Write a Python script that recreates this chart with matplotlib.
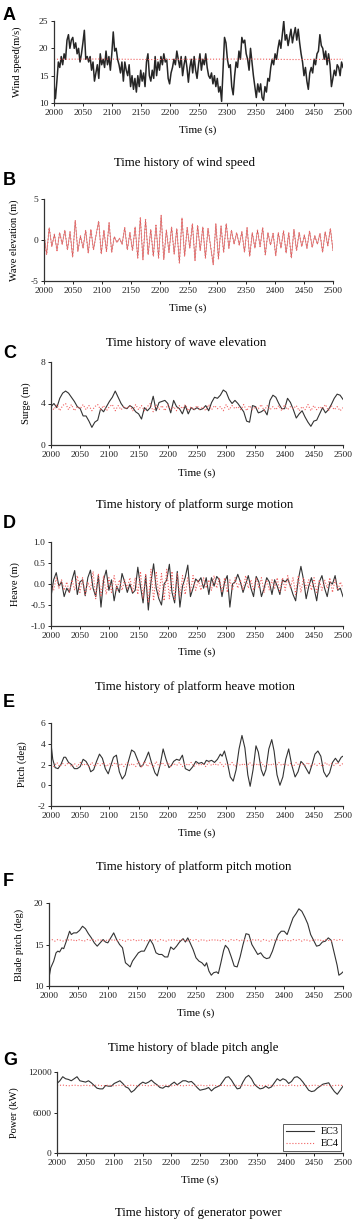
import numpy as np
import matplotlib
matplotlib.use("Agg")
import matplotlib.pyplot as plt
from matplotlib.ticker import FormatStrFormatter

plt.rcParams['font.family'] = ['Liberation Serif', 'DejaVu Serif']
plt.rcParams['axes.unicode_minus'] = False

# ---------------- data ----------------
wind_ec3 = [13.5,10.8,14,17.5,16.5,18.5,17,19,18,21.5,22.5,20,21.5,22,20,21,19,20,17.5,19,
            21,23.3,18,18.5,17.5,18.5,16,17.5,14,15.5,17,14.5,19,17,18,16.5,19.5,17,18.5,16,
            19,23,19.5,20,18,17,15.5,17.5,14,17.5,16,15,17,13,15,12.5,14.5,12,15,13,
            16,14,15.5,13,17.5,19,15,14,16,14.5,18.5,15,17.5,16,18.5,17,19,17.5,18,14.5,
            13.5,15.5,16.5,18,17,19.5,18,16.5,18.5,15,17,18.5,16.5,13.8,16.5,18,15.5,18.5,16,14.5,
            17,19,16,18,17,19,16.5,15,14.5,15.5,13.5,15,13,14.5,12,13,10.3,16,22,21,
            18,16.5,17,13,11.5,15,17.5,16.5,19.5,18,22,21,21.5,19,18,16,20,17.5,15,13,
            11,13.5,12,13.5,11,10.5,13,12,14.5,14,16.5,18,17,19,18,20,21.5,20,22.5,25,
            21.5,22.5,20.5,22,23.5,21,22.5,23.8,21.5,23.5,21,19,17.5,15,16.5,14,12.5,15.5,16.5,15.5,
            18,17,19,19.5,22.5,20.5,20,18,19.5,17,19,17,13,14.5,16,15,17,16.5,15,17.5,16.5]
wind_ec4 = [18.0, 18.05, 17.95, 18.0, 18.05, 17.95, 18.0]

wave_ec = [0.8,-1.8,1.5,-0.8,0.7,-1.3,0.9,-0.5,1.2,-1.2,1.0,-2.1,2.4,-1.4,0.5,-1.0,1.2,-1.6,1.3,-1.2,
           0.6,2.3,-1.7,1.2,-1.4,2.1,-1.5,0.4,-0.3,0.2,-0.5,1.5,-1.2,0.9,-1.3,1.6,-2.2,2.7,-2.4,2.5,
           -1.8,1.3,-2.0,1.8,-2.2,3.0,-2.4,1.2,-1.5,1.6,-1.7,1.4,-2.8,2.7,-2.0,1.5,-1.0,2.0,-2.5,1.8,
           -1.3,1.6,-2.2,1.4,-0.8,-3.0,2.0,-2.3,1.7,-1.5,2.0,-1.0,1.2,-0.5,0.9,-0.6,1.0,-1.5,1.5,-2.0,
           0.9,-1.0,1.2,-0.8,1.5,-1.8,0.9,-0.6,0.8,-1.9,0.9,-1.0,1.1,-1.6,0.9,-2.2,1.3,-1.3,0.9,-0.8,
           0.6,-1.0,1.1,-0.9,0.5,-0.5,0.8,-1.5,1.0,-0.7,1.4,-1.3]

surge_ec3 = [3.7,4.0,3.6,4.5,5.0,5.2,5.0,4.6,4.2,3.7,3.5,2.8,2.8,2.3,1.7,2.2,2.4,3.5,3.2,3.7,
             4.2,4.6,5.2,4.6,4.0,3.6,3.5,3.8,3.6,3.2,3.0,2.5,3.6,3.3,3.6,4.7,3.3,4.1,4.2,4.3,
             4.0,3.1,4.3,3.7,3.5,3.0,3.8,3.0,3.6,3.4,3.6,3.4,3.5,3.8,3.3,4.1,4.6,4.5,4.8,5.3,
             5.1,4.4,4.0,4.3,4.0,3.6,3.2,2.3,2.2,3.8,3.7,3.1,3.2,3.4,2.9,4.3,4.8,4.6,4.0,3.5,
             3.5,4.5,4.1,3.4,2.6,3.0,3.3,2.7,2.2,1.8,2.3,2.4,3.0,3.6,3.1,3.4,3.9,4.5,4.9,4.8,4.4]
surge_ec4 = [3.7,3.4,3.9,3.3,3.8,4.0,3.4,3.9,3.3,3.7,3.5,3.9,3.4,3.8,3.3,3.7,3.9,3.4,3.8,3.3,
             3.7,3.9,3.3,3.8,3.4,3.7,3.5,3.8,3.3,3.9,3.4,3.8,3.3,3.7,4.0,3.2,3.9,3.4,3.8,3.3,
             3.9,3.4,3.7,3.3,3.8,3.5,3.9,3.3,3.7,3.4,3.8,3.4,3.7,3.3,3.9,3.4,3.8,3.5,3.7,3.3,
             3.9,3.4,3.8,3.5,3.7,3.4,3.9,3.3,3.8,3.4,3.7,3.5,3.9,3.3,3.8,3.4,3.7,3.4,3.8,3.3,
             3.9,3.4,3.7,3.5,3.8,3.3,3.7,3.4,3.9,3.3,3.8,3.4,3.7,3.5,3.9,3.3,3.8,3.4,3.7,3.3,3.6]

heave_ec3 = [-0.30,0.10,0.27,-0.05,0.05,-0.30,-0.10,-0.20,0.10,0.32,-0.25,0.05,0.10,-0.28,0.15,0.33,
             -0.10,-0.30,0.20,-0.55,0.10,0.33,-0.15,0.10,-0.40,-0.05,-0.20,0.25,0.05,-0.20,0.00,-0.22,
             -0.15,0.40,-0.05,-0.45,0.20,-0.62,0.05,0.48,-0.10,-0.35,-0.50,0.00,0.10,0.47,-0.20,-0.45,
             0.30,-0.55,-0.05,0.15,0.45,-0.30,-0.10,0.12,0.05,0.15,-0.10,0.15,-0.25,0.15,-0.05,0.18,
             0.10,-0.30,0.05,0.20,-0.55,0.00,0.05,0.23,0.05,-0.20,0.00,0.20,-0.10,-0.30,0.18,0.05,
             -0.30,-0.10,0.15,0.05,-0.25,0.10,-0.05,-0.25,0.10,0.05,0.12,-0.05,-0.25,-0.40,0.10,0.42,
             0.10,-0.35,-0.05,0.15,-0.10,-0.40,0.05,0.20,-0.10,-0.30,0.05,0.00,0.20,-0.15,-0.10,-0.30]
heave_ec4 = [0.05,-0.15,0.15,-0.10,0.10,-0.15,0.05,-0.20,0.10,-0.15,0.20,-0.20,0.15,-0.25,0.05,-0.15,
             0.30,-0.35,0.25,-0.30,0.20,-0.25,0.15,-0.20,0.20,-0.15,0.10,-0.15,0.10,-0.10,0.15,-0.20,
             0.15,-0.25,0.30,-0.35,0.25,-0.45,0.35,-0.40,0.30,-0.30,0.25,-0.40,0.35,-0.35,0.30,-0.40,
             0.25,-0.30,0.20,-0.25,0.15,-0.20,0.20,-0.15,0.10,-0.15,0.15,-0.10,0.10,-0.15,0.20,-0.10,
             0.15,-0.20,0.15,-0.20,0.10,-0.15,0.15,-0.10,0.10,-0.15,0.20,-0.10,0.10,-0.15,0.15,-0.10,
             0.15,-0.20,0.10,-0.15,0.10,-0.10,0.15,-0.20,0.15,-0.15,0.20,-0.10,0.15,-0.25,0.20,-0.20,
             0.15,-0.10,0.10,-0.15,0.15,-0.20,0.10,-0.15,0.10,-0.10,0.15,-0.20,0.10,-0.15,0.05,-0.10]

pitch_t = [2000,2003,2007,2012,2017,2022,2025,2030,2035,2040,2045,2050,2055,2060,2065,2068,2073,2078,2083,2088,
           2093,2098,2103,2107,2112,2117,2122,2127,2132,2138,2143,2148,2153,2157,2162,2167,2172,2178,2182,2187,
           2192,2197,2202,2206,2210,2215,2220,2225,2230,2237,2243,2248,2253,2258,2262,2266,2270,2275,2280,2285,
           2290,2293,2297,2302,2307,2312,2317,2322,2327,2332,2337,2341,2346,2351,2355,2360,2364,2368,2373,2378,
           2382,2387,2392,2397,2402,2407,2412,2418,2423,2428,2433,2438,2442,2447,2452,2457,2462,2467,2472,2477,
           2482,2487,2492,2497,2500]
pitch_ec3 = [4.0,2.5,1.7,1.6,2.0,2.7,2.7,2.2,2.0,1.6,1.6,1.8,2.5,2.3,1.8,1.3,1.5,2.3,3.0,2.6,
             1.6,1.1,2.0,2.7,2.9,1.3,0.6,1.0,2.2,3.4,3.2,2.5,1.8,1.9,2.5,3.2,2.2,1.2,0.9,2.0,
             3.5,2.5,1.7,1.9,2.3,2.5,2.4,2.9,1.6,1.4,1.8,2.3,2.1,2.2,2.0,2.4,2.3,2.4,2.2,2.5,
             3.0,2.8,3.3,2.2,0.8,0.4,1.5,3.5,4.8,3.6,1.0,-0.1,1.5,3.8,3.2,1.5,0.9,1.5,3.5,4.4,
             3.3,1.0,0.0,0.8,2.5,3.5,2.0,0.8,1.3,2.3,2.0,1.5,1.1,2.0,3.0,3.3,2.8,1.3,0.8,1.2,
             2.2,2.6,2.2,2.7,2.8]
pitch_ec4 = [2.0,1.8,2.2,1.8,2.1,1.9,2.2,1.8,2.1,1.8,2.2,1.9,2.1,1.8,2.2,1.8,2.1,1.9,2.2,1.8,
             2.1,1.9,2.2,1.8,2.1,1.8,2.2,1.9,2.1,1.8,2.3,1.7,2.3,1.8,2.2,1.7,2.3,1.8,2.2,1.9,
             2.2,1.8,2.1,1.9,2.2,1.8,2.1,1.9,2.2,1.8,2.1,1.9,2.1,1.8,2.2,1.9,2.1,1.9,2.2,1.8,
             2.1,1.9,2.2,1.8,2.1,1.9,2.1,1.8,2.2,1.9,2.1,1.9,2.2,1.8,2.1,1.9,2.1,1.8,2.2,1.9,
             2.1,1.9,2.1,1.8,2.2,1.9,2.1,1.9,2.2,1.8,2.1,1.9,2.1,1.8,2.2,1.9,2.1,1.9,2.2,1.9,2.1]

blade_t = [2000,2003,2008,2012,2015,2018,2022,2025,2030,2035,2038,2042,2047,2052,2057,2062,2067,2072,2077,2082,
           2087,2092,2096,2100,2105,2110,2115,2120,2125,2130,2135,2138,2142,2147,2152,2157,2162,2167,2172,2177,
           2182,2187,2192,2197,2202,2207,2212,2217,2222,2228,2232,2236,2240,2245,2250,2255,2260,2265,2268,2272,
           2276,2280,2285,2288,2292,2297,2300,2305,2310,2315,2320,2325,2330,2335,2340,2345,2350,2355,2360,2365,
           2370,2375,2380,2385,2390,2395,2400,2405,2410,2415,2420,2425,2430,2435,2440,2445,2450,2455,2460,2465,
           2470,2475,2480,2485,2490,2493,2497,2500]
blade_ec3 = [11.0,12.2,13.0,14.0,14.2,14.1,14.6,14.5,15.5,16.6,16.2,16.4,16.4,16.7,17.2,16.9,16.3,15.8,15.2,14.8,
             15.2,15.6,15.3,15.2,15.8,16.4,15.6,15.0,14.6,12.8,12.5,12.3,13.0,13.5,14.0,14.2,14.2,14.9,15.6,15.0,
             14.0,13.8,13.8,13.5,13.5,14.7,14.4,14.8,15.3,15.7,15.3,15.8,15.2,14.4,13.4,13.0,12.8,12.4,12.8,11.8,
             11.3,11.6,11.7,11.5,12.7,14.3,14.9,14.5,13.5,12.4,12.3,13.5,15.0,16.3,16.2,15.0,14.4,13.8,14.0,13.5,
             13.3,13.4,14.2,15.3,16.2,16.6,16.6,16.2,17.2,18.2,18.7,19.3,19.0,18.3,17.5,16.2,15.5,14.8,14.9,15.3,
             15.4,15.8,15.5,14.0,12.5,11.3,11.5,11.7]
blade_ec4 = [15.5,15.6,15.4,15.6,15.5,15.4,15.6,15.5,15.6,15.4,15.6,15.5,15.4,15.6,15.5,15.6,15.4,15.6,15.5,15.4,
             15.6,15.5,15.6,15.4,15.6,15.5,15.4,15.6,15.5,15.6,15.4,15.6,15.5,15.4,15.6,15.5,15.6,15.4,15.6,15.5,
             15.4,15.6,15.5,15.6,15.4,15.6,15.5,15.4,15.6,15.5,15.6,15.4,15.6,15.5,15.4,15.6,15.5,15.6,15.4,15.6,
             15.5,15.4,15.6,15.5,15.6,15.4,15.6,15.5,15.4,15.6,15.5,15.6,15.4,15.6,15.5,15.4,15.6,15.5,15.6,15.4,
             15.6,15.5,15.4,15.6,15.5,15.6,15.4,15.6,15.5,15.4,15.6,15.5,15.6,15.4,15.6,15.5,15.4,15.6,15.5,15.6,15.5]

power_ec3 = [10300,10700,11300,11000,10900,10700,11000,11300,10700,10600,10500,10700,10400,10000,9600,9500,9500,10000,9900,9900,
             10300,10500,10700,10300,9800,9600,9000,9300,9800,10200,10500,10300,10500,10800,10400,10100,9700,9600,9900,9800,
             10200,10500,10100,10400,10700,10700,10500,10600,10200,9700,9300,9400,9500,9700,9200,9600,9800,10000,10600,11200,
             11300,10800,10100,9500,9600,10500,11200,11500,11000,10200,9800,9500,9600,9900,9600,9800,10400,11000,10700,11000,
             10800,10300,10600,11200,11300,11000,10500,9900,9300,9100,9200,9600,9900,10200,10300,10400,9700,9100,8700,9300,9900]
power_ec4 = [10000,10060,9950,10050,9960,10040,9950,10060,9960,10040,9950,10050,9960,10050,9950,10040,9960,10050,9950,10040,
             9960,10050,9950,10040,9960,10050,9950,10060,9960,10040,9950,10050,9960,10050,9950,10040,9960,10050,9950,10040,
             9960,10050,9950,10040,9960,10050,9950,10060,9960,10040,10000]

t_start, t_end = 2000, 2500
x_ticks = list(range(2000, 2501, 50))

panels = [
    dict(letter='A', ylabel='Wind speed(m/s)', ylim=(10, 25), yticks=[10, 15, 20, 25],
         title='Time history of wind speed', fmt='%d', box=(54, 343, 21, 103),
         title_xy=(185, 163), letter_y=7, xlab_xy=(198, 130), ylab_x=17),
    dict(letter='B', ylabel='Wave elevation (m)', ylim=(-5, 5), yticks=[-5, 0, 5],
         title='Time history of wave elevation', fmt='%d', box=(44, 333, 199, 281),
         title_xy=(186, 343), letter_y=172, xlab_xy=(188, 308), ylab_x=14),
    dict(letter='C', ylabel='Surge (m)', ylim=(0, 8), yticks=[0, 4, 8],
         title='Time history of platform surge motion', fmt='%d', box=(51, 343, 362, 445),
         title_xy=(195, 505), letter_y=345, xlab_xy=(197, 473), ylab_x=26),
    dict(letter='D', ylabel='Heave (m)', ylim=(-1, 1), yticks=[-1.0, -0.5, 0.0, 0.5, 1.0],
         title='Time history of platform heave motion', fmt='%.1f', box=(51, 343, 542, 626),
         title_xy=(195, 687), letter_y=515, xlab_xy=(197, 652), ylab_x=15),
    dict(letter='E', ylabel='Pitch (deg)', ylim=(-2, 6), yticks=[-2, 0, 2, 4, 6],
         title='Time history of platform pitch motion', fmt='%d', box=(51, 343, 723, 806),
         title_xy=(194, 867), letter_y=694, xlab_xy=(197, 833), ylab_x=22),
    dict(letter='F', ylabel='Blade pitch (deg)', ylim=(10, 20), yticks=[10, 15, 20],
         title='Time history of blade pitch angle', fmt='%d', box=(49, 343, 903, 986),
         title_xy=(193, 1048), letter_y=873, xlab_xy=(196, 1013), ylab_x=19),
    dict(letter='G', ylabel='Power (kW)', ylim=(0, 12000), yticks=[0, 6000, 12000],
         title='Time history of generator power', fmt='%d', box=(57, 343, 1072, 1153),
         title_xy=(198, 1213), letter_y=1052, xlab_xy=(200, 1180), ylab_x=14),
]

W, H = 353, 1222
fig = plt.figure(figsize=(W / 100, H / 100), dpi=100)

BLACK = '#333333'
RED = '#f06060'

axes = []
for p in panels:
    l, r, t, b = p['box']
    ax = fig.add_axes([l / W, 1 - b / H, (r - l) / W, (b - t) / H])
    ax.set_xlim(t_start, t_end)
    ax.set_ylim(*p['ylim'])
    ax.set_xticks(x_ticks)
    ax.set_yticks(p['yticks'])
    ax.yaxis.set_major_formatter(FormatStrFormatter(p['fmt']))
    for s in ['top', 'right']:
        ax.spines[s].set_visible(False)
    for s in ['left', 'bottom']:
        ax.spines[s].set_linewidth(0.9)
        ax.spines[s].set_color('#333333')
    ax.tick_params(direction='out', length=2.5, width=0.7, labelsize=6.8, pad=1.5, colors='#222222')
    fig.text(p['xlab_xy'][0] / W, 1 - p['xlab_xy'][1] / H, 'Time (s)', ha='center', va='center', fontsize=8)
    fig.text(p['ylab_x'] / W, 1 - ((t + b) / 2) / H, p['ylabel'], ha='center', va='center',
             rotation=90, fontsize=7.5)
    fig.text(p['title_xy'][0] / W, 1 - p['title_xy'][1] / H, p['title'], ha='center', va='center', fontsize=9.3)
    fig.text(3 / W, 1 - p['letter_y'] / H, p['letter'], ha='left', va='top', fontsize=13,
             fontweight='bold', family='Liberation Sans')
    axes.append(ax)

def tgrid(vals):
    return np.linspace(t_start, t_end, len(vals))

lw_b, lw_r = 0.8, 0.8
axA, axB, axC, axD, axE, axF, axG = axes
axA.plot(tgrid(wind_ec3), wind_ec3, color='#262626', lw=1.1)
axA.plot(tgrid(wind_ec4), wind_ec4, color=RED, lw=lw_r, ls=':')

axB.plot(tgrid(wave_ec), wave_ec, color='#b85050', lw=0.45)
axB.plot(tgrid(wave_ec), wave_ec, color='#f07070', lw=0.9, ls=':')

axC.plot(tgrid(surge_ec3), surge_ec3, color=BLACK, lw=lw_b)
axC.plot(tgrid(surge_ec4), surge_ec4, color=RED, lw=lw_r, ls=':')

axD.plot(tgrid(heave_ec3), heave_ec3, color=BLACK, lw=lw_b)
axD.plot(tgrid(heave_ec4), heave_ec4, color=RED, lw=lw_r, ls=':')

axE.plot(pitch_t, pitch_ec3, color=BLACK, lw=lw_b)
axE.plot(tgrid(pitch_ec4), pitch_ec4, color=RED, lw=lw_r, ls=':')

axF.plot(blade_t, blade_ec3, color=BLACK, lw=lw_b)
axF.plot(tgrid(blade_ec4), blade_ec4, color=RED, lw=lw_r, ls=':')

axG.plot(tgrid(power_ec3), power_ec3, color=BLACK, lw=lw_b, label='EC3')
axG.plot(tgrid(power_ec4), power_ec4, color=RED, lw=lw_r, ls=':', label='EC4')
leg = axG.legend(loc='lower right', fontsize=7.3, frameon=True, fancybox=False, borderaxespad=0.15,
                 handlelength=2.8, handletextpad=0.6, borderpad=0.3, labelspacing=0.3)
leg.get_frame().set_edgecolor('#333333')
leg.get_frame().set_linewidth(0.7)

fig.savefig('out.png', dpi=100)
